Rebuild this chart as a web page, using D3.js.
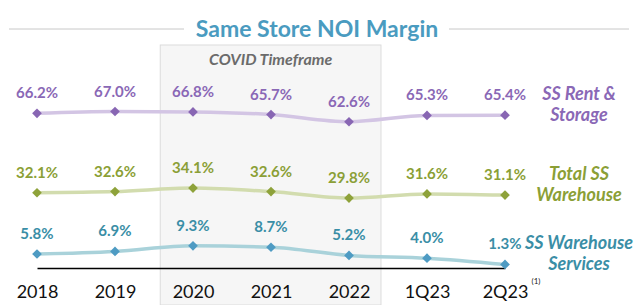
<!DOCTYPE html>
<html>
<head>
<meta charset="utf-8">
<script src="https://cdn.jsdelivr.net/npm/d3@7"></script>
<style>
  body { margin: 0; background: #fff; }
  svg { display: block; font-family: Lato, "Open Sans", sans-serif; }
</style>
</head>
<body>
<div id="chart"></div>
<script>
const periods = ["2018", "2019", "2020", "2021", "2022", "1Q23", "2Q23"];
const rentStorage = [66.2, 67.0, 66.8, 65.7, 62.6, 65.3, 65.4];
const totalWarehouse = [32.1, 32.6, 34.1, 32.6, 29.8, 31.6, 31.1];
const warehouseServices = [5.8, 6.9, 9.3, 8.7, 5.2, 4.0, 1.3];
const seriesNames = [["SS Rent &", "Storage"], ["Total SS", "Warehouse"], ["SS Warehouse", "Services"]];
const covidPeriods = ["2020", "2022"];

const width = 640, height = 305;

const svg = d3.select("#chart").append("svg")
    .attr("width", width)
    .attr("height", height);

// x is a point scale, y one linear scale shared by all three lines
const x = d3.scalePoint().domain(periods).range([37, 505]);
const y = d3.scaleLinear().domain([0, 67]).range([267.5, 111.5]);

// covid band
const step = x.step();
const bandLeft = x(covidPeriods[0]) - step * 0.42;
const bandRight = x(covidPeriods[1]) + step * 0.41;
svg.append("rect")
    .attr("x", bandLeft).attr("y", 45)
    .attr("width", bandRight - bandLeft).attr("height", height - 45)
    .attr("fill", "#f6f6f6")
    .attr("stroke", "#dcdcdc")
    .attr("stroke-width", 1);
svg.append("text")
    .attr("x", (bandLeft + bandRight) / 2).attr("y", 65)
    .attr("text-anchor", "middle")
    .attr("font-size", 16).attr("font-weight", 700).attr("font-style", "italic")
    .attr("fill", "#6b6b6b")
    .text("COVID Timeframe");

// title with rules either side
svg.append("line").attr("x1", 9).attr("x2", 184).attr("y1", 29).attr("y2", 29)
    .attr("stroke", "#c8c8c8").attr("stroke-width", 1);
svg.append("line").attr("x1", 449).attr("x2", 629).attr("y1", 29).attr("y2", 29)
    .attr("stroke", "#c8c8c8").attr("stroke-width", 1);
svg.append("text")
    .attr("x", 317).attr("y", 37)
    .attr("text-anchor", "middle")
    .attr("font-size", 23).attr("font-weight", 700)
    .attr("fill", "#4a9bc0")
    .text("Same Store NOI Margin");

// axis baseline + tick labels
const xAxis = svg.append("g")
    .attr("transform", "translate(0,268)")
    .call(d3.axisBottom(x).tickSize(0).tickPadding(17));
xAxis.select(".domain").attr("stroke", "#000").attr("stroke-width", 1.5);
xAxis.selectAll("text")
    .attr("font-size", 18)
    .attr("font-family", "Lato, 'Open Sans', sans-serif")
    .attr("fill", "#111");
svg.append("text")
    .attr("x", x("2Q23") + 31).attr("y", 284)
    .attr("text-anchor", "middle")
    .attr("font-size", 8).attr("fill", "#222")
    .text("(1)");

const series = [
    { values: rentStorage, line: "#d3c5e4", mark: "#8866b3", label: "#8a68b6", name: seriesNames[0] },
    { values: totalWarehouse, line: "#d2dcae", mark: "#8ea23a", label: "#8b9f36", name: seriesNames[1] },
    { values: warehouseServices, line: "#a9d2da", mark: "#4e9bc3", label: "#3a8ea6", name: seriesNames[2] }
];

const line = d3.line()
    .x((d, i) => x(periods[i]))
    .y(d => y(d))
    .curve(d3.curveMonotoneX);

const diamond = d3.symbol().type(d3.symbolDiamond2).size(60);

series.forEach(s => {
    const g = svg.append("g");
    g.append("path")
        .attr("d", line(s.values))
        .attr("fill", "none")
        .attr("stroke", s.line)
        .attr("stroke-width", 3.5);
    g.selectAll("path.pt")
        .data(s.values)
        .join("path")
        .attr("class", "pt")
        .attr("d", diamond)
        .attr("transform", (d, i) => `translate(${x(periods[i])},${y(d)})`)
        .attr("fill", s.mark);
    g.selectAll("text.val")
        .data(s.values)
        .join("text")
        .attr("class", "val")
        .attr("x", (d, i) => x(periods[i]))
        .attr("y", d => y(d) - 15)
        .attr("text-anchor", "middle")
        .attr("font-size", 15).attr("font-weight", 700)
        .attr("fill", s.label)
        .text(d => d.toFixed(1) + "%");

    // series name at right, first line level with the value labels
    const last = s.values[s.values.length - 1];
    const nameY = y(last) - 15;
    s.name.forEach((t, k) => {
        g.append("text")
            .attr("x", 579).attr("y", nameY + k * 21)
            .attr("text-anchor", "middle")
            .attr("font-size", 18).attr("font-weight", 700).attr("font-style", "italic")
            .attr("fill", s.label)
            .text(t);
    });
});
</script>
</body>
</html>
